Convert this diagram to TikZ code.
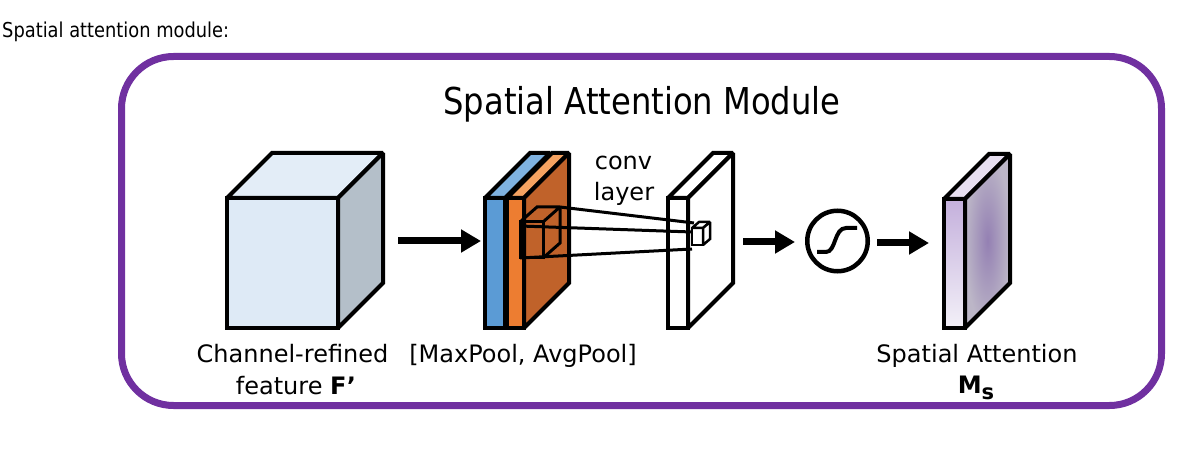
\documentclass[tikz,border=0pt]{standalone}
\usepackage{fontspec}
\setmainfont{DejaVu Sans}
\newfontfamily\narrowfam[FakeStretch=0.87]{DejaVu Sans}
\newfontfamily\labfam{DejaVu Sans}
\usetikzlibrary{arrows.meta}
\definecolor{framepurple}{HTML}{7030A0}
\definecolor{cubefront}{HTML}{DEEAF6}
\definecolor{cubetop}{HTML}{E3EDF7}
\definecolor{cubeside}{HTML}{B4BFC9}
\definecolor{bluefront}{HTML}{5B9BD5}
\definecolor{bluetop}{HTML}{7FB2E0}
\definecolor{orangefront}{HTML}{ED7D31}
\definecolor{orangetop}{HTML}{F4A261}
\definecolor{orangeside}{HTML}{C0622A}
\definecolor{attfronttop}{HTML}{C4B0DC}
\definecolor{attfrontbot}{HTML}{F3F0F8}
\definecolor{atttop}{HTML}{E7DFF0}
\definecolor{attsidein}{HTML}{9480B3}
\definecolor{attsideout}{HTML}{BCB6C7}
\tikzset{
  edge/.style={draw=black,line width=4pt,line join=miter,miter limit=2},
  thinedge/.style={draw=black,line width=3pt,line join=miter,miter limit=2},
  tinyedge/.style={draw=black,line width=2.5pt,line join=miter,miter limit=2},
  fatarrow/.style={draw=black,line width=7pt,-{Triangle[length=20pt,width=22pt]}},
  lab/.style={font=\labfam\fontsize{24}{28}\selectfont,inner sep=0pt,anchor=base},
}
\begin{document}
\begin{tikzpicture}[x=1pt,y=-1pt]
\useasboundingbox (0,0) rectangle (1183,454);
% caption
\node[font=\narrowfam\fontsize{20.5}{24}\selectfont,inner sep=0pt,anchor=base west] (caption) at (2,38) {Spatial attention module:};
% frame
\draw[framepurple,line width=7pt,rounded corners=52pt] (121.5,56.5) rectangle (1161.5,405.5);
% title
\node[font=\narrowfam\fontsize{37}{42}\selectfont,inner sep=0pt,anchor=base] (title) at (642,115) {Spatial Attention Module};

% big cube
\filldraw[edge,fill=cubefront] (227,198) rectangle (338,328);
\filldraw[edge,fill=cubetop] (227,198) -- (272,153) -- (383,153) -- (338,198) -- cycle;
\filldraw[edge,fill=cubeside] (338,198) -- (383,153) -- (383,283) -- (338,328) -- cycle;

% pooled features: blue slab
\filldraw[edge,fill=bluefront] (485,198) rectangle (505,328);
\filldraw[edge,fill=bluetop] (485,198) -- (530,153) -- (550,153) -- (505,198) -- cycle;
% orange slab
\filldraw[edge,fill=orangefront] (507,198) rectangle (524,328);
\filldraw[edge,fill=orangetop] (507,198) -- (552,153) -- (569,153) -- (524,198) -- cycle;
\filldraw[edge,fill=orangeside] (524,198) -- (569,153) -- (569,283) -- (524,328) -- cycle;

% conv layer slab
\filldraw[edge,fill=white] (668,198) rectangle (688,328);
\filldraw[edge,fill=white] (668,198) -- (713,153) -- (733,153) -- (688,198) -- cycle;
\filldraw[edge,fill=white] (688,198) -- (733,153) -- (733,283) -- (688,328) -- cycle;

% receptive field cube
\draw[thinedge] (520,222) rectangle (543,258);
\draw[thinedge] (520,222) -- (537,207) -- (560,207) -- (543,222);
\draw[thinedge] (560,207) -- (560,243) -- (543,258);

% small output cube
\filldraw[tinyedge,fill=white] (692,228) rectangle (703,245);
\filldraw[tinyedge,fill=white] (692,228) -- (699,222) -- (710,222) -- (703,228) -- cycle;
\filldraw[tinyedge,fill=white] (703,228) -- (710,222) -- (710,239) -- (703,245) -- cycle;

% projection lines
\coordinate (rfA) at (560,207);
\coordinate (rfB) at (520,226);
\coordinate (rfC) at (520,258);
\coordinate (ocA) at (694,223);
\coordinate (ocB) at (692,232);
\coordinate (ocC) at (692,249);
\draw[black,line width=3pt] (rfA) -- (ocA);
\draw[black,line width=3pt] (rfB) -- (ocB);
\draw[black,line width=3pt] (rfC) -- (ocC);

% sigmoid
\node[draw=black,circle,line width=4.5pt,minimum size=60.5pt,inner sep=0pt] (sig) at (837.5,241) {};
\draw[black,line width=4pt] (817,252) -- (826,252) .. controls (836,252) and (834,228) .. (846,228) -- (857,228);

% attention map slab
\shade[top color=attfronttop,bottom color=attfrontbot] (944,199) rectangle (965,328);
\draw[edge] (944,199) rectangle (965,328);
\filldraw[edge,fill=atttop] (944,199) -- (989,154) -- (1010,154) -- (965,199) -- cycle;
\shade[inner color=attsidein,outer color=attsideout] (965,199) -- (1010,154) -- (1010,283) -- (965,328) -- cycle;
\draw[edge] (965,199) -- (1010,154) -- (1010,283) -- (965,328) -- cycle;

% arrows
\coordinate (a1s) at (398,241);
\coordinate (a1e) at (481,241);
\coordinate (a2s) at (743,242);
\coordinate (a2e) at (795,242);
\coordinate (a3s) at (877,243);
\coordinate (a3e) at (929,243);
\draw[fatarrow] (a1s) -- (a1e);
\draw[fatarrow] (a2s) -- (a2e);
\draw[fatarrow] (a3s) -- (a3e);

% labels
\node[lab] (crA) at (292.5,362) {Channel-refined};
\node[lab] (crB) at (296,394) {feature \textbf{F’}};
\node[lab] (pool) at (523,362) {[MaxPool, AvgPool]};
\node[lab] (convA) at (623.5,170) {conv};
\node[lab] (convB) at (624,201) {layer};
\node[lab] (saA) at (977,362) {Spatial Attention};
\node[lab] (saB) at (976,393) {\textbf{M}{\fontsize{21}{21}\selectfont\bfseries\raisebox{-6pt}{s}}};
\end{tikzpicture}
\end{document}
